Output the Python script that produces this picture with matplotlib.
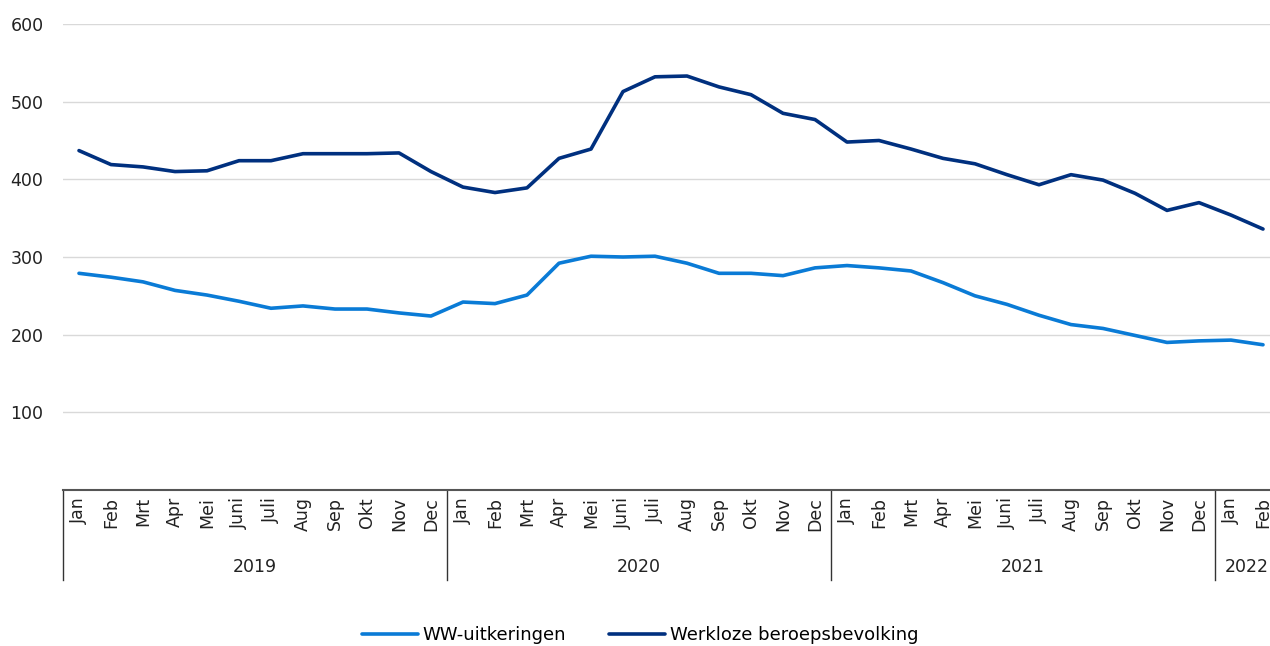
import numpy as np
import matplotlib
matplotlib.use("Agg")
import matplotlib.pyplot as plt
import matplotlib.transforms as mtransforms

# ============================================================
# Data (x 1000, monthly, Jan 2019 - Feb 2022)
# ============================================================
MONTHS = ["Jan", "Feb", "Mrt", "Apr", "Mei", "Juni", "Juli", "Aug",
          "Sep", "Okt", "Nov", "Dec"]
YEARS = ["2019", "2020", "2021", "2022"]
MONTHS_PER_YEAR = [12, 12, 12, 2]

ww_uitkeringen = [279, 274, 268, 257, 251, 243, 234, 237, 233, 233, 228, 224,
                  242, 240, 251, 292, 301, 300, 301, 292, 279, 279, 276, 286,
                  289, 286, 282, 267, 250, 239, 225, 213, 208, 199, 190, 192,
                  193, 187]
werkloze = [437, 419, 416, 410, 411, 424, 424, 433, 433, 433, 434, 410,
            390, 383, 389, 427, 439, 513, 532, 533, 519, 509, 485, 477,
            448, 450, 439, 427, 420, 406, 393, 406, 399, 382, 360, 370,
            354, 336]

LIGHT = "#0A7BD6"
DARK = "#00307F"
FS = 12.5  # tick font size

plt.rcParams["font.family"] = ["DejaVu Sans"]

fig = plt.figure(figsize=(12.7, 6.46), dpi=100)
W, H = 1270, 646
left, right, top, bottom = 63, 1279, 24, 490
ax = fig.add_axes([left / W, 1 - bottom / H, (right - left) / W, (bottom - top) / H])

x = np.arange(len(werkloze))
ax.plot(x, ww_uitkeringen, color=LIGHT, lw=2.6, label="WW-uitkeringen",
        solid_joinstyle="round", solid_capstyle="round")
ax.plot(x, werkloze, color=DARK, lw=2.6, label="Werkloze beroepsbevolking",
        solid_joinstyle="round", solid_capstyle="round")

ax.set_xlim(-0.5, len(x) - 0.5)
ax.set_ylim(0, 600)
ax.set_yticks([100, 200, 300, 400, 500, 600])
ax.grid(axis="y", color="#d9d9d9", lw=1.0)
ax.set_axisbelow(True)
ax.tick_params(axis="y", length=0, labelsize=FS, colors="#222222", pad=14)

for s in ["left", "right", "top"]:
    ax.spines[s].set_visible(False)
ax.spines["bottom"].set_color("#555555")
ax.spines["bottom"].set_linewidth(1.5)

# month labels
month_labels = []
for n in MONTHS_PER_YEAR:
    month_labels += MONTHS[:n]
ax.set_xticks(x)
ax.set_xticklabels(month_labels, rotation=90, fontsize=FS, color="#222222")
ax.tick_params(axis="x", length=0, pad=5)

# year groups and separators
trans = mtransforms.blended_transform_factory(ax.transData, ax.transAxes)
axh = bottom - top
start = 0
for year, n in zip(YEARS, MONTHS_PER_YEAR):
    ax.plot([start - 0.5, start - 0.5], [0, -90 / axh], transform=trans,
            color="#333333", lw=1.0, clip_on=False)
    ax.text(start + n / 2 - 0.5, -77 / axh, year, transform=trans,
            ha="center", va="center", fontsize=FS, color="#222222")
    start += n

fig.legend(loc="center", bbox_to_anchor=(640 / W, 1 - 635 / H), ncol=2,
           frameon=False, fontsize=13, handlelength=3.1, handletextpad=0.25,
           columnspacing=2.4)

fig.savefig("out.png", dpi=100)
